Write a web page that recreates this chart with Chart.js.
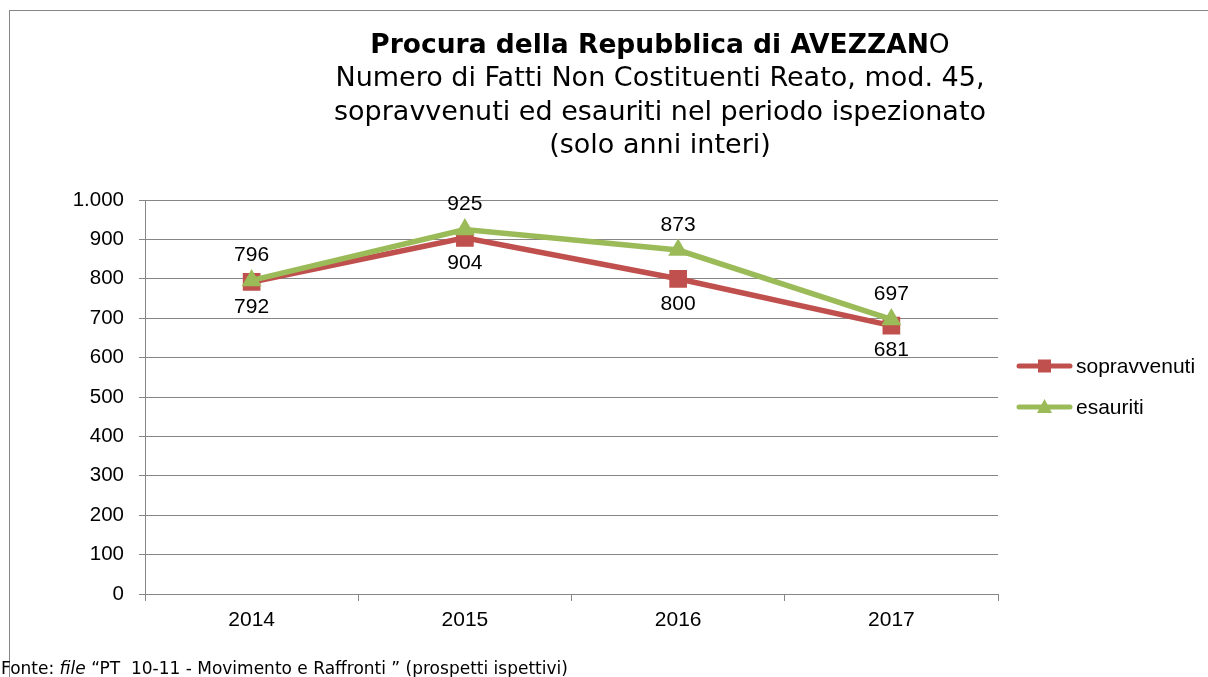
<!DOCTYPE html>
<html lang="it">
<head>
    <meta charset="UTF-8">
    <title>Procura della Repubblica di AVEZZANO</title>
    <script src="https://cdn.jsdelivr.net/npm/chart.js"></script>
    <style>
        html, body { margin: 0; padding: 0; background: #fff; }
        #wrap { width: 1208px; height: 677px; }
    </style>
</head>
<body>
<div id="wrap"><canvas id="myChart" width="1208" height="677"></canvas></div>
<script>
    const anni = ['2014', '2015', '2016', '2017'];
    const sopravvenuti = [792, 904, 800, 681];
    const esauriti = [796, 925, 873, 697];
    const yTicks = [0, 100, 200, 300, 400, 500, 600, 700, 800, 900, 1000];

    const ROSSO = '#C0504D';
    const VERDE = '#9BBB59';
    const GRIGIO = '#868686';
    const ARIAL = '"Liberation Sans", Arial';

    function fmt(v) {
        return String(v).replace(/\B(?=(\d{3})+(?!\d))/g, '.');
    }

    // cornice, titolo, legenda e nota in basso
    const decorPlugin = {
        id: 'decor',
        beforeDraw(chart) {
            const {ctx} = chart;
            ctx.save();
            ctx.strokeStyle = GRIGIO;
            ctx.lineWidth = 1;
            ctx.strokeRect(9.5, 10.5, 1210, 700);
            ctx.restore();
        },
        afterDraw(chart) {
            const {ctx} = chart;
            ctx.save();
            ctx.fillStyle = '#000';
            ctx.textBaseline = 'middle';

            // titolo
            const cx = 660;
            const parteB = 'Procura della Repubblica di AVEZZAN';
            const parteN = 'O';
            ctx.font = 'bold 26.5px "DejaVu Sans"';
            const wB = ctx.measureText(parteB).width;
            ctx.font = '26.5px "DejaVu Sans"';
            const wN = ctx.measureText(parteN).width;
            let x0 = cx - (wB + wN) / 2;
            ctx.textAlign = 'left';
            ctx.font = 'bold 26.5px "DejaVu Sans"';
            ctx.fillText(parteB, x0, 46);
            ctx.font = '26.5px "DejaVu Sans"';
            ctx.fillText(parteN, x0 + wB, 46);

            ctx.textAlign = 'center';
            ctx.font = '27px "DejaVu Sans"';
            const righe = [
                'Numero di Fatti Non Costituenti Reato, mod. 45,',
                'sopravvenuti ed esauriti nel periodo ispezionato',
                '(solo anni interi)'
            ];
            righe.forEach((r, i) => ctx.fillText(r, cx, 79 + i * 33.5));

            // legenda
            const voci = [
                {label: 'sopravvenuti', color: ROSSO, style: 'rect', y: 366},
                {label: 'esauriti', color: VERDE, style: 'triangle', y: 407}
            ];
            voci.forEach(v => {
                ctx.strokeStyle = v.color;
                ctx.lineWidth = 5;
                ctx.lineCap = 'round';
                ctx.beginPath();
                ctx.moveTo(1019, v.y);
                ctx.lineTo(1070, v.y);
                ctx.stroke();
                ctx.fillStyle = v.color;
                if (v.style === 'rect') {
                    ctx.fillRect(1038, v.y - 6.5, 13, 13);
                } else {
                    ctx.beginPath();
                    ctx.moveTo(1044.5, v.y - 8);
                    ctx.lineTo(1052, v.y + 6);
                    ctx.lineTo(1037, v.y + 6);
                    ctx.closePath();
                    ctx.fill();
                }
                ctx.fillStyle = '#000';
                ctx.textAlign = 'left';
                ctx.font = '21px ' + ARIAL;
                ctx.fillText(v.label, 1076, v.y + 1);
            });

            // fonte
            ctx.textAlign = 'left';
            ctx.textBaseline = 'alphabetic';
            let fx = 1;
            const fy = 674;
            const pezzi = [
                {t: 'Fonte: ', f: '17px "DejaVu Sans"'},
                {t: 'file', f: 'italic 17px "DejaVu Sans"'},
                {t: ' \u201CPT  10-11 - Movimento e Raffronti \u201D (prospetti ispettivi)', f: '17px "DejaVu Sans"'}
            ];
            pezzi.forEach(p => {
                ctx.font = p.f;
                ctx.fillText(p.t, fx, fy);
                fx += ctx.measureText(p.t).width;
            });
            ctx.restore();
        }
    };

    // etichette dei valori
    const valoriPlugin = {
        id: 'valori',
        afterDatasetsDraw(chart) {
            const {ctx} = chart;
            ctx.save();
            ctx.font = '21px ' + ARIAL;
            ctx.fillStyle = '#000';
            ctx.textAlign = 'center';
            ctx.textBaseline = 'middle';
            chart.data.datasets.forEach((ds, i) => {
                const meta = chart.getDatasetMeta(i);
                const dy = ds.label === 'esauriti' ? -25 : 25;
                meta.data.forEach((pt, j) => {
                    ctx.fillText(String(ds.data[j]), pt.x, pt.y + dy);
                });
            });
            ctx.restore();
        }
    };

    const config = {
        type: 'line',
        data: {
            labels: anni,
            datasets: [
                {
                    label: 'sopravvenuti',
                    data: sopravvenuti,
                    borderColor: ROSSO,
                    backgroundColor: ROSSO,
                    borderWidth: 5.5,
                    pointStyle: 'rect',
                    pointRadius: 12.5,
                    pointBorderWidth: 0,
                    order: 1,
                    tension: 0
                },
                {
                    label: 'esauriti',
                    data: esauriti,
                    borderColor: VERDE,
                    backgroundColor: VERDE,
                    borderWidth: 5.5,
                    pointStyle: 'triangle',
                    pointRadius: 11.5,
                    pointBorderWidth: 0,
                    order: 0,
                    tension: 0
                }
            ]
        },
        options: {
            responsive: false,
            animation: false,
            layout: {
                padding: {left: 0, top: 200, right: 210, bottom: 0}
            },
            plugins: {
                legend: {display: false},
                tooltip: {enabled: false},
                title: {display: false}
            },
            scales: {
                x: {
                    offset: true,
                    grid: {
                        offset: true,
                        drawOnChartArea: false,
                        drawTicks: true,
                        tickLength: 7,
                        color: GRIGIO
                    },
                    border: {color: GRIGIO, width: 1},
                    ticks: {
                        color: '#000',
                        font: {family: ARIAL, size: 21},
                        padding: 7
                    },
                    afterFit(scale) { scale.height = 83; }
                },
                y: {
                    min: 0,
                    max: 1000,
                    afterBuildTicks(scale) {
                        scale.ticks = yTicks.map(v => ({value: v}));
                    },
                    grid: {
                        color: GRIGIO,
                        lineWidth: 1,
                        drawTicks: true,
                        tickLength: 6
                    },
                    border: {color: GRIGIO, width: 1},
                    ticks: {
                        color: '#000',
                        font: {family: ARIAL, size: 20.5},
                        padding: 15,
                        callback: v => fmt(v)
                    },
                    afterFit(scale) { scale.width = 145; }
                }
            }
        },
        plugins: [decorPlugin, valoriPlugin]
    };

    new Chart(document.getElementById('myChart').getContext('2d'), config);
</script>
</body>
</html>
